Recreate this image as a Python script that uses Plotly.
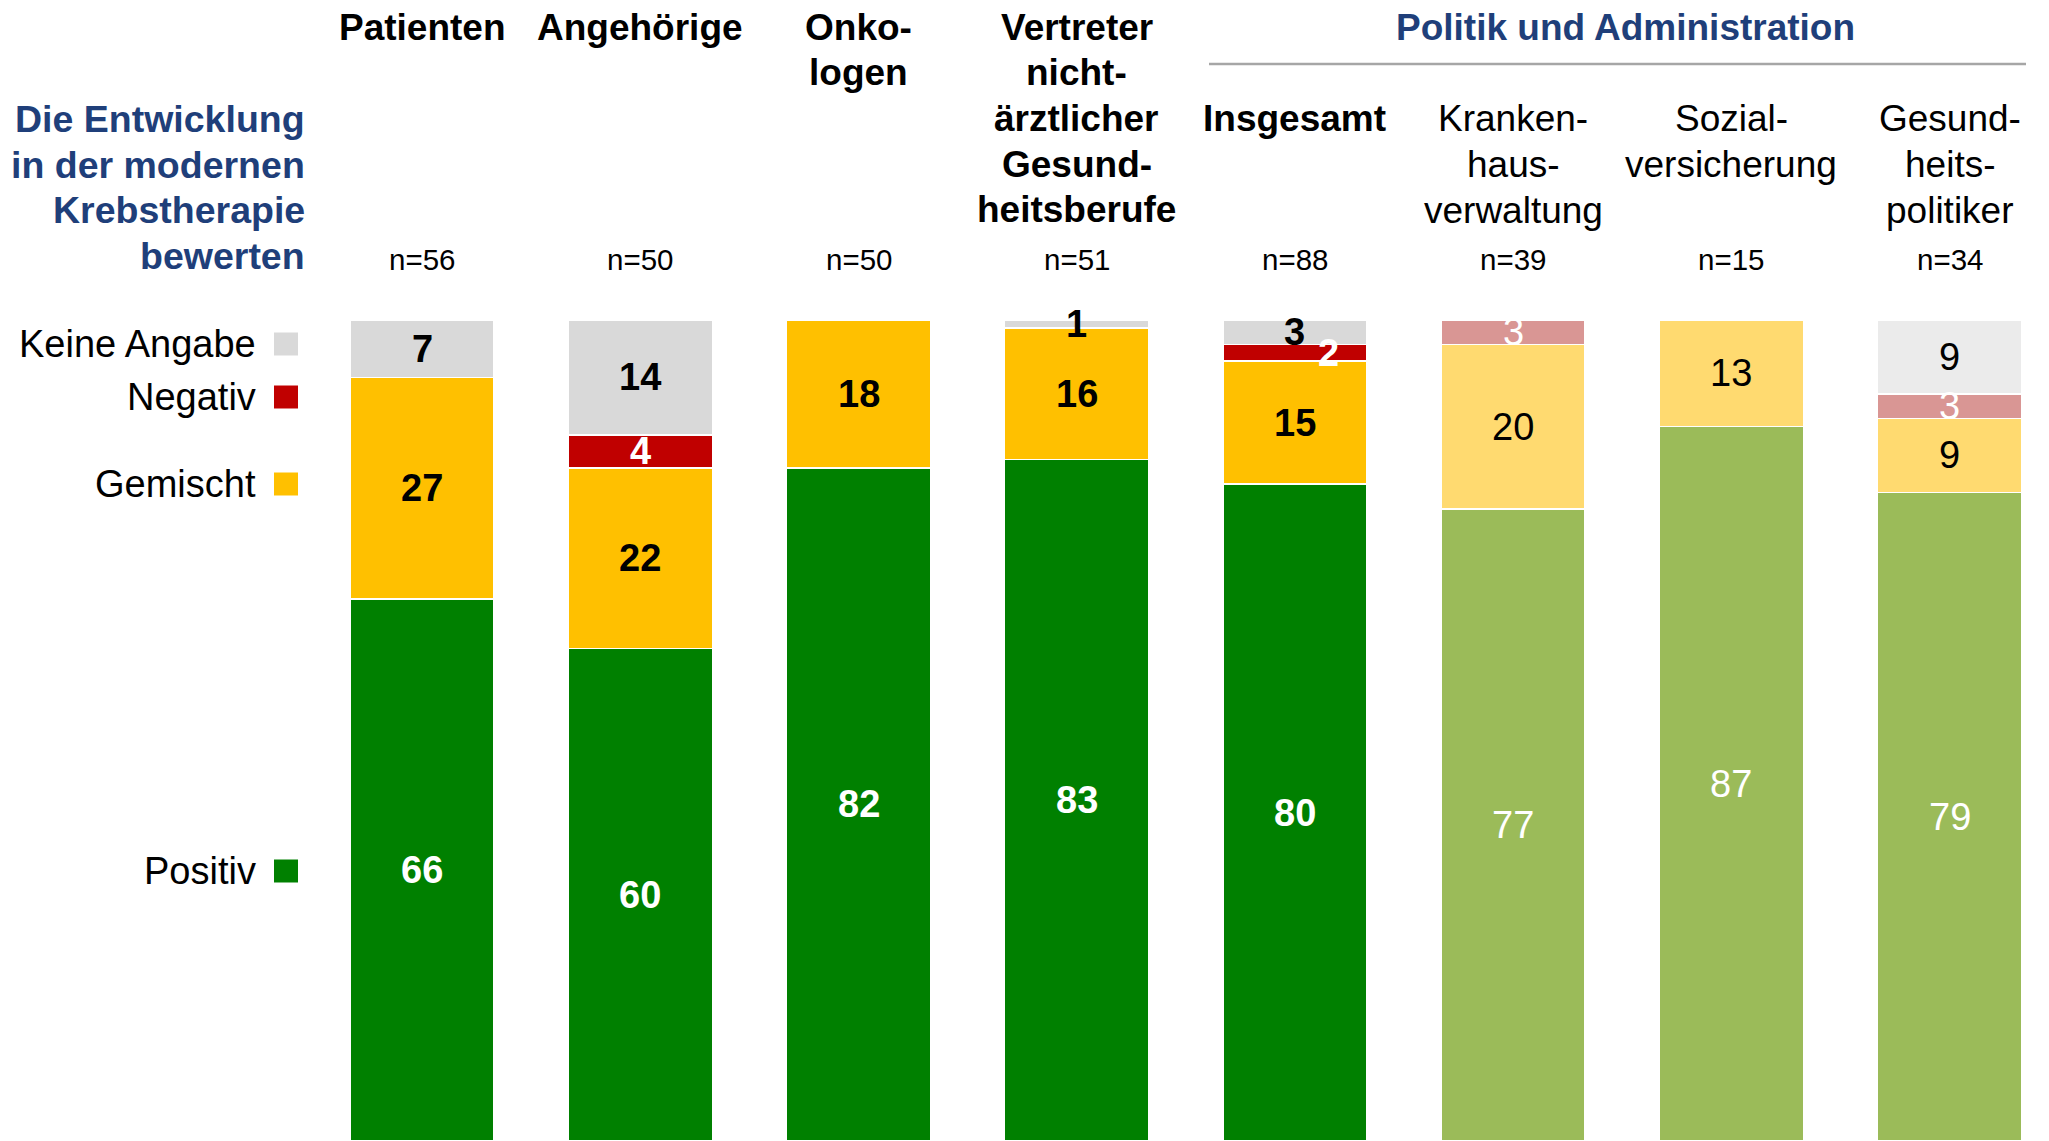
import plotly.graph_objects as go

# --- data -------------------------------------------------------------
groups = ["Patienten", "Angehörige", "Onko-<br>logen",
          "Vertreter<br>nicht-<br>ärztlicher<br>Gesund-<br>heitsberufe",
          "Insgesamt", "Kranken-<br>haus-<br>verwaltung",
          "Sozial-<br>versicherung", "Gesund-<br>heits-<br>politiker"]
n_sizes = [56, 50, 50, 51, 88, 39, 15, 34]
positiv = [66, 60, 82, 83, 80, 77, 87, 79]
gemischt = [27, 22, 18, 16, 15, 20, 13, 9]
negativ = [0, 4, 0, 0, 2, 3, 0, 3]
keine_angabe = [7, 14, 0, 1, 3, 0, 0, 9]
faded = [False, False, False, False, False, True, True, True]

series = [("Positiv", positiv), ("Gemischt", gemischt),
          ("Negativ", negativ), ("Keine Angabe", keine_angabe)]

col_main = {"Positiv": "#008000", "Gemischt": "#FFC000",
            "Negativ": "#C00000", "Keine Angabe": "#D9D9D9"}
col_faded = {"Positiv": "#9BBB59", "Gemischt": "#FFDA70",
             "Negativ": "#D99694", "Keine Angabe": "#EBEBEB"}
txt_col = {"Positiv": "white", "Gemischt": "black",
           "Negativ": "white", "Keine Angabe": "black"}

FONT = "Liberation Sans, Arial, sans-serif"
BLUE = "#1F3F7A"

# page body has an 8px margin, so lay out in window pixels minus that
OFF = 8
W, H = 2049 - OFF, 1141 - OFF
ML, MT = 313 - OFF, 320 - OFF
PH = H - MT
PW = W - ML
LINE = 45.7


def py(p):  # window pixel y -> paper y
    return (H - (p - OFF)) / PH


def px(p):  # window pixel x -> paper x
    return (p - OFF - ML) / PW


x = list(range(len(groups)))
fig = go.Figure()

for name, vals in series:
    colors = [col_faded[name] if f else col_main[name] for f in faded]
    fig.add_trace(go.Bar(
        x=x, y=[v if v else None for v in vals], name=name,
        width=0.66, marker=dict(color=colors, line=dict(color="white", width=1.5)),
        showlegend=False, hoverinfo="skip"))

# value labels
nudge = {(4, "Negativ"): 34}
annotations = []
base = [0] * len(groups)
for name, vals in series:
    for i, v in enumerate(vals):
        if v:
            label = str(v) if faded[i] else "<b>%d</b>" % v
            annotations.append(dict(
                x=i, y=base[i] + v / 2, xref="x", yref="y", text=label,
                showarrow=False, xshift=nudge.get((i, name), 0),
                font=dict(family=FONT, size=38, color=txt_col[name])))
        base[i] += v


def text_lines(xv, xref, y0, text, bold, color, size, xanchor="center"):
    for k, line in enumerate(text.split("<br>")):
        annotations.append(dict(
            x=xv, y=py(y0 + k * LINE), xref=xref, yref="paper",
            xanchor=xanchor, yanchor="middle", showarrow=False,
            text="<b>%s</b>" % line if bold else line,
            font=dict(family=FONT, size=size, color=color)))


# column headers
for i, g in enumerate(groups):
    y0 = 119 if i >= 4 else 27
    text_lines(i, "x", y0, g, not faded[i], "black", 37)
    annotations.append(dict(
        x=i, y=py(260), xref="x", yref="paper", yanchor="middle",
        text="n=%d" % n_sizes[i], showarrow=False,
        font=dict(family=FONT, size=29.5, color="black")))

text_lines(px(1625), "paper", 27, "Politik und Administration", True, BLUE, 37)
text_lines(px(307), "paper", 119,
           "Die Entwicklung<br>in der modernen<br>Krebstherapie<br>bewerten",
           True, BLUE, 37.5, xanchor="right")

# legend
legend_y = {"Keine Angabe": 344, "Negativ": 397, "Gemischt": 484, "Positiv": 871}
shapes = []
for name, yy in legend_y.items():
    annotations.append(dict(
        x=px(258), y=py(yy), xref="paper", yref="paper", xanchor="right",
        yanchor="middle", text=name, showarrow=False,
        font=dict(family=FONT, size=38, color="black")))
    shapes.append(dict(
        type="rect", xref="paper", yref="paper",
        x0=px(274), x1=px(298), y0=py(yy + 11.5), y1=py(yy - 11.5),
        fillcolor=col_main[name], line=dict(width=0)))

shapes.append(dict(type="line", xref="paper", yref="paper",
                   x0=px(1209), x1=px(2026), y0=py(64), y1=py(64),
                   line=dict(color="#A6A6A6", width=2.5)))

fig.update_layout(
    barmode="stack", width=W, height=H, autosize=False,
    margin=dict(l=ML, r=0, t=MT, b=0, pad=0),
    paper_bgcolor="white", plot_bgcolor="white",
    font=dict(family=FONT),
    xaxis=dict(range=[-0.5, 7.456], visible=False, fixedrange=True),
    yaxis=dict(range=[0, 100], visible=False, fixedrange=True),
    annotations=annotations, shapes=shapes)

fig.write_html("out.html")
